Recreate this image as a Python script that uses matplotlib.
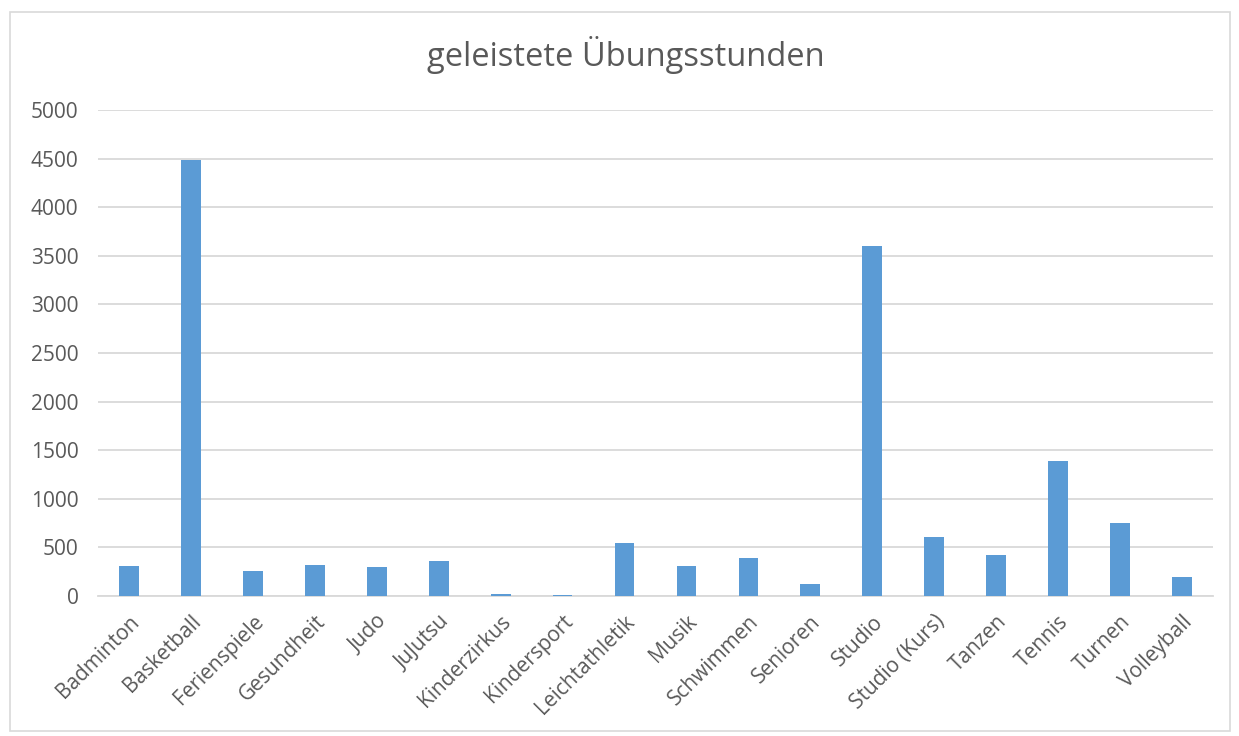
import matplotlib.pyplot as plt
from matplotlib.patches import Rectangle

plt.rcParams['font.family'] = ['Open Sans', 'DejaVu Sans']

categories = ["Badminton", "Basketball", "Ferienspiele", "Gesundheit", "Judo", "JuJutsu",
              "Kinderzirkus", "Kindersport", "Leichtathletik", "Musik", "Schwimmen",
              "Senioren", "Studio", "Studio (Kurs)", "Tanzen", "Tennis", "Turnen", "Volleyball"]
stunden = [309, 4490, 257, 319, 298, 364, 24, 10, 545, 312, 388, 123, 3600, 604, 422, 1389, 755, 199]
yticks = [0, 500, 1000, 1500, 2000, 2500, 3000, 3500, 4000, 4500, 5000]

fig = plt.figure(figsize=(12.39, 7.36), dpi=100)
ax = fig.add_axes([98 / 1239, 1 - 596 / 736, (1213 - 98) / 1239, (596 - 110) / 736])

x = range(len(categories))
ax.bar(x, stunden, width=0.32, color="#5b9bd5", zorder=3)

ax.set_xlim(-0.5, len(categories) - 0.5)
ax.set_ylim(0, 5000)
ax.set_yticks(yticks)
ax.set_xticks(list(x))
ax.set_xticklabels(categories, rotation=45, ha="right", rotation_mode="anchor")
ax.tick_params(axis="both", length=0, labelsize=15, colors="#595959")
ax.tick_params(axis="y", pad=14)
ax.tick_params(axis="x", pad=11)
ax.grid(axis="y", color="#d9d9d9", linewidth=1.3, zorder=0)
for s in ["top", "right", "left"]:
    ax.spines[s].set_visible(False)
ax.spines["bottom"].set_color("#d9d9d9")
ax.spines["bottom"].set_linewidth(1.3)

fig.text(0.505, 1 - 55 / 736, "geleistete Übungsstunden", ha="center", va="center",
         fontsize=23.5, color="#595959")

fig.patches.append(Rectangle((10 / 1239, 1 - 731 / 736), 1220 / 1239, 719 / 736,
                             transform=fig.transFigure, fill=False,
                             edgecolor="#d9d9d9", linewidth=1.2))

fig.savefig("out.png", dpi=100)
